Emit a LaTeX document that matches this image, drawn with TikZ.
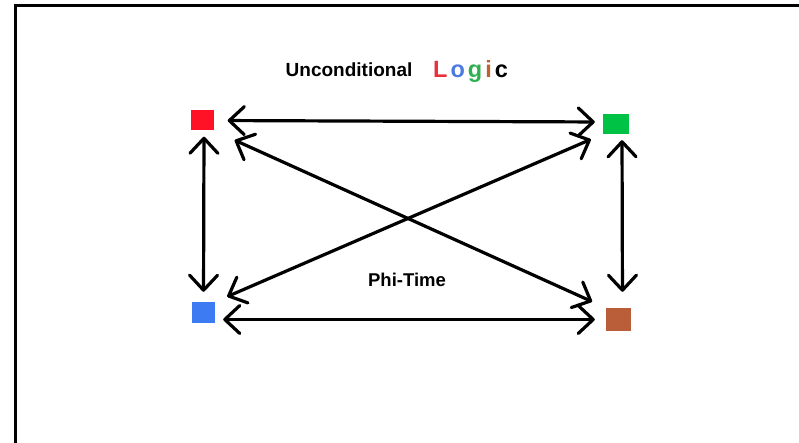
\documentclass[tikz,border=0pt]{standalone}
\usepackage{fontspec}
\setmainfont{Liberation Sans}
\usetikzlibrary{arrows.meta}
\definecolor{sqred}{HTML}{FF1226}
\definecolor{sqgreen}{HTML}{00C244}
\definecolor{sqblue}{HTML}{3D7BF2}
\definecolor{sqbrown}{HTML}{BA5E3A}
\definecolor{lred}{HTML}{E8303A}
\definecolor{lblue}{HTML}{4A7AE0}
\definecolor{lgreen}{HTML}{2FB050}
\definecolor{lbrown}{HTML}{C06030}
\begin{document}
\begin{tikzpicture}[x=1pt, y=-1pt,
    sq/.style={minimum width=23pt, minimum height=20pt, inner sep=0pt},
    link/.style={{Straight Barb[round, length=15pt, width=28pt]}-{Straight Barb[round, length=15pt, width=28pt]}, line width=3.2pt, line cap=round}]
    \useasboundingbox (0,0) rectangle (799,443);
    \draw[line width=3pt] (15.5,443) -- (15.5,5.5) -- (799,5.5);

    \node[sq, fill=sqred] (red) at (202,120.5) {};
    \node[sq, fill=sqgreen, minimum width=26pt] (green) at (616,124) {};
    \node[sq, fill=sqblue, minimum height=21pt] (blue) at (203.5,312.5) {};
    \node[sq, fill=sqbrown, minimum width=25pt, minimum height=23pt] (brown) at (618.5,319.5) {};

    \node[anchor=base, inner sep=0pt] (title) at (349,77) {\fontsize{19}{22}\selectfont\bfseries Unconditional};
    \node[anchor=base west, inner sep=0pt] (logic) at (433,78) {\fontsize{23.5}{26}\selectfont\bfseries
      \textcolor{lred}{L}\hspace{3pt}\textcolor{lblue}{o}\hspace{3pt}\textcolor{lgreen}{g}\hspace{3pt}\textcolor{lbrown}{i}\hspace{3pt}c};
    \node[anchor=base, inner sep=0pt] (phi) at (407,286) {\fontsize{18.5}{22}\selectfont\bfseries Phi-Time};

    \draw[link, shorten <=14pt, shorten >=8pt] (red.east) -- ([yshift=2pt]green.west);
    \draw[link, shorten <=8pt, shorten >=11pt] ([yshift=-7pt]blue.east) -- (brown.west);
    \draw[link, shorten <=6pt, shorten >=10pt] ([xshift=2pt]red.south) -- (blue.north);
    \draw[link, shorten <=6pt, shorten >=16pt] ([xshift=6pt]green.south) -- ([xshift=4pt]brown.north);
    \draw[link, shorten <=23pt, shorten >=15pt] (red.south east) -- (brown.north west);
    \draw[link, shorten <=13pt, shorten >=13pt] (blue.north east) -- (green.south west);
\end{tikzpicture}
\end{document}
